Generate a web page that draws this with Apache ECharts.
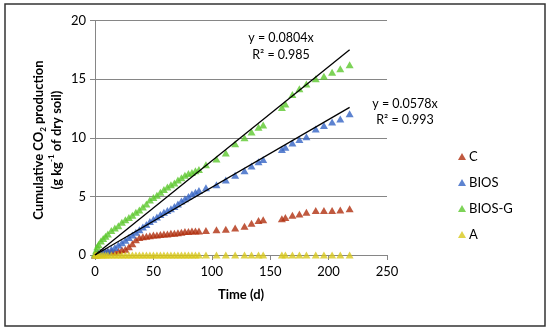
<!DOCTYPE html>
<html><head><meta charset="utf-8">
<script src="https://cdn.jsdelivr.net/npm/echarts@6/dist/echarts.min.js"></script>
<style>html,body{margin:0;padding:0;background:#fff}#c{width:550px;height:330px}</style>
</head><body><div id="c"></div>
<script>
var days = [0,1,2,3,5,7,9,11,14,17,20,23,26,29,32,35,38,41,44,47,50,53,56,59,62,65,68,71,74,77,80,83,86,89,95,104,112,120,128,134,140,144,160,163,169,175,181,189,196,203,210,218];
var seriesC = [0,0.05,0.1,0.1,0.15,0.2,0.25,0.3,0.3,0.25,0.35,0.45,0.5,0.7,0.95,1.3,1.5,1.55,1.6,1.65,1.7,1.7,1.75,1.8,1.8,1.85,1.85,1.9,1.95,2.0,2.0,2.05,2.05,2.05,2.1,2.15,2.2,2.3,2.45,2.7,2.95,3.0,3.1,3.2,3.4,3.5,3.65,3.8,3.8,3.8,3.85,3.95];
var seriesBIOS = [0,0.05,0.1,0.15,0.2,0.25,0.3,0.35,0.5,0.65,0.85,1.05,1.25,1.5,1.7,1.95,2.15,2.4,2.6,2.85,3.05,3.25,3.45,3.65,3.8,3.95,4.15,4.35,4.6,4.8,5.0,5.2,5.35,5.5,5.75,6.0,6.4,6.8,7.2,7.6,7.95,8.15,9.0,9.2,9.55,9.85,10.1,10.75,11.05,11.35,11.6,12.05];
var seriesBIOSG = [0.1,0.4,0.7,0.9,1.2,1.4,1.6,1.8,2.1,2.3,2.5,2.8,3.0,3.2,3.4,3.65,3.85,4.1,4.35,4.7,4.9,5.1,5.35,5.6,5.8,6.0,6.15,6.4,6.6,6.8,6.95,7.05,7.2,7.3,7.7,8.2,8.7,9.5,10.0,10.5,10.9,11.1,12.6,12.9,13.7,14.2,14.6,15.05,15.25,15.6,15.9,16.25];
var seriesA = [0,0,0,0,0,0,0,0,0,0,0,0,0,0,0,0,0,0,0,0,0,0,0,0,0,0,0,0,0,0,0,0,0,0,0,0,0,0,0,0,0,0,0,0,0,0,0,0,0,0,0,0];
var names = ['C','BIOS','BIOS-G','A'];
var colors = ['#B0300F','#3464C4','#5CC82E','#D8C81C'];
var slopeBIOSG = 0.0804, slopeBIOS = 0.0578, trendEnd = 218;
var xTicks = [0,50,100,150,200,250];
var yTicks = [0,5,10,15,20];

function pairs(v){ return days.map(function(d,i){ return [d, v[i]]; }); }
var all = [seriesC, seriesBIOS, seriesBIOSG, seriesA];
var font = 'Lato, "Open Sans", sans-serif';
var series = all.map(function(v,i){
  return {name:names[i], type:'scatter', data:pairs(v), symbol:'triangle', symbolSize:[8,7],
    itemStyle:{color:colors[i]}, z:2+i};
});
[slopeBIOSG, slopeBIOS].forEach(function(s){
  series.push({type:'line', data:[[0,0],[trendEnd, s*trendEnd]], symbol:'none', silent:true,
    lineStyle:{color:'#000', width:1.3}, z:10});
});
var chart = echarts.init(document.getElementById('c'), null, {renderer:'canvas'});
chart.setOption({
  animation:false,
  backgroundColor:'#fff',
  grid:{left:95, right:163, top:20.7, bottom:75, containLabel:false},
  xAxis:{type:'value', min:xTicks[0], max:xTicks[xTicks.length-1], interval:50,
    axisLine:{lineStyle:{color:'#868686'}}, axisTick:{show:true, length:5, lineStyle:{color:'#868686'}},
    splitLine:{show:false}, axisLabel:{color:'#000', fontSize:13, fontFamily:font, margin:10},
    name:'Time (d)', nameLocation:'middle', nameGap:33,
    nameTextStyle:{fontWeight:'bold', fontSize:13, color:'#000', fontFamily:font}},
  yAxis:{type:'value', min:yTicks[0], max:yTicks[yTicks.length-1], interval:5,
    axisLine:{show:true, lineStyle:{color:'#868686'}}, axisTick:{show:true, length:5, lineStyle:{color:'#868686'}},
    splitLine:{lineStyle:{color:'#868686'}}, axisLabel:{color:'#000', fontSize:13, fontFamily:font, margin:9}},
  legend:{orient:'vertical', left:453, top:145, itemGap:13, itemWidth:8, itemHeight:7,
    data:names.map(function(n,i){return {name:n, icon:'triangle'};}),
    textStyle:{fontSize:13, fontFamily:font, color:'#000', padding:[0,0,0,-2]}},
  graphic:[
    {type:'rect', shape:{x:5, y:4, width:540, height:322}, style:{fill:'none', stroke:'#333', lineWidth:1.5}, silent:true},
    {type:'text', x:48, y:140, rotation:Math.PI/2,
      style:{text:'{a|Cumulative CO}{s|2}{a| production}\n{a|(g kg}{p|-1}{a| of dry soil)}',
        textAlign:'center', textVerticalAlign:'middle', fill:'#000',
        rich:{a:{fontSize:13, fontWeight:'bold', fontFamily:font, lineHeight:18},
              s:{fontSize:8, fontWeight:'bold', fontFamily:font, verticalAlign:'bottom', lineHeight:13},
              p:{fontSize:8, fontWeight:'bold', fontFamily:font, verticalAlign:'top', lineHeight:19}}}},
    {type:'text', x:281, y:38, style:{text:'y = 0.0804x', textAlign:'center', textVerticalAlign:'middle', fontSize:12.5, fontFamily:font, fill:'#000'}},
    {type:'text', x:281, y:55, style:{text:'R² = 0.985', textAlign:'center', textVerticalAlign:'middle', fontSize:12.5, fontFamily:font, fill:'#000'}},
    {type:'text', x:405, y:104, style:{text:'y = 0.0578x', textAlign:'center', textVerticalAlign:'middle', fontSize:12.5, fontFamily:font, fill:'#000'}},
    {type:'text', x:405, y:120, style:{text:'R² = 0.993', textAlign:'center', textVerticalAlign:'middle', fontSize:12.5, fontFamily:font, fill:'#000'}}
  ],
  series:series
});
</script></body></html>
